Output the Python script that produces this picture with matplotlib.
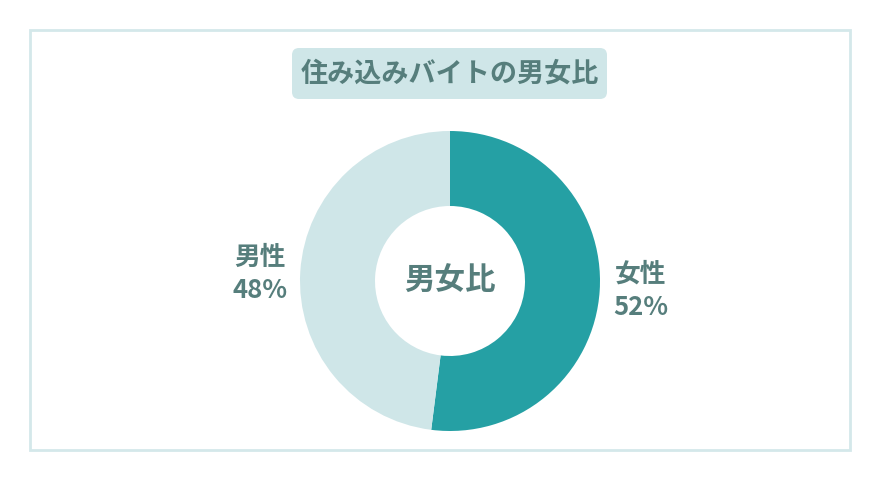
import matplotlib
matplotlib.use("Agg")
import matplotlib.pyplot as plt
from matplotlib.patches import Rectangle, FancyBboxPatch

plt.rcParams['font.family'] = ['Noto Sans CJK JP', 'DejaVu Sans']

# ---- data ----
title = "住み込みバイトの男女比"
center_label = "男女比"
labels = ["女性", "男性"]
values = [52, 48]
colors = ["#25a0a4", "#cfe6e8"]
text_color = "#567e7c"

W, H = 880, 480
fig = plt.figure(figsize=(W / 100, H / 100), dpi=100)

# outer frame
fig.patches.append(Rectangle((30 / W, 30 / H), 820 / W, 420 / H, transform=fig.transFigure,
                             fill=False, edgecolor="#d4e8ea", linewidth=2))

# title box
fig.patches.append(FancyBboxPatch((292 / W, (H - 99) / H), 315 / W, 51 / H,
                                  boxstyle="round,pad=0,rounding_size=0.008",
                                  transform=fig.transFigure, facecolor="#cfe6e8",
                                  edgecolor="none", mutation_aspect=W / H))
fig.text(449.5 / W, (H - 74) / H, title, ha="center", va="center",
         fontsize=19.5, fontweight="bold", color=text_color)

# donut
cx, cy, r = 450, H - 281, 150
ax = fig.add_axes([(cx - r) / W, (cy - r) / H, 2 * r / W, 2 * r / H])
ax.pie(values, colors=colors, startangle=90, counterclock=False, radius=1,
       wedgeprops=dict(width=0.5, edgecolor="none"))
ax.set_xlim(-1, 1)
ax.set_ylim(-1, 1)
ax.set_aspect("equal")
ax.axis("off")

ax.text(0, 0, center_label, ha="center", va="center", fontsize=22,
        fontweight="bold", color=text_color)

# outside labels
label_pos = [(641, 291), (260, 274)]
for lab, val, (px, py) in zip(labels, values, label_pos):
    fig.text(px / W, (H - py) / H, f"{lab}\n{val}%", ha="center", va="center",
             fontsize=18.5, fontweight="bold", color=text_color, linespacing=1.3)

fig.savefig("out.png", dpi=100, facecolor="white")
